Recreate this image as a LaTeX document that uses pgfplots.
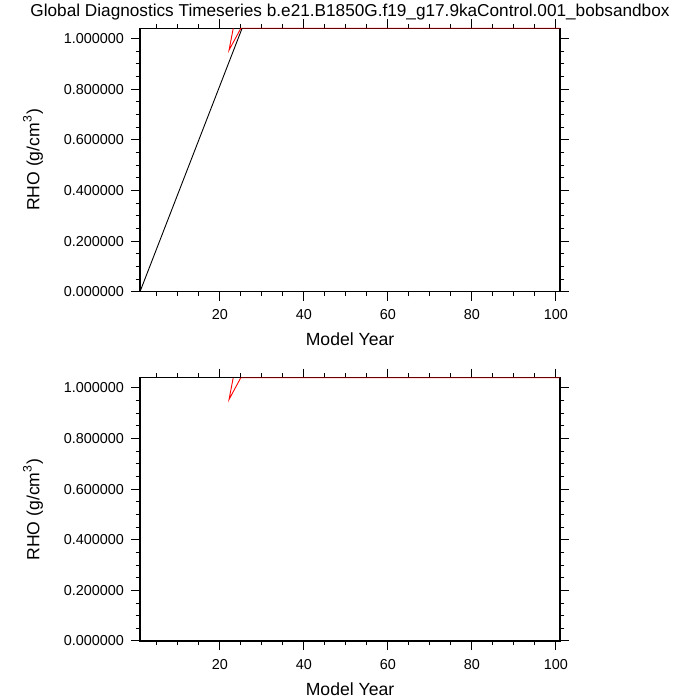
\documentclass[border=0pt]{standalone}
\usepackage{pgfplots}
\pgfplotsset{compat=1.18}
\usepackage{fontspec}
\setmainfont{Liberation Sans}
\pgfplotsset{
  ncl/.style={
    scale only axis, width=210pt, height=131.65pt,
    anchor=south west,
    xmin=1, xmax=101, ymin=0, ymax=1.04,
    xtick={20,40,60,80,100},
    xticklabels={20,40,60,80,100},
    minor xtick={5,10,15,25,30,35,45,50,55,65,70,75,85,90,95},
    ytick={0,0.2,0.4,0.6,0.8,1.0},
    yticklabels={0.000000,0.200000,0.400000,0.600000,0.800000,1.000000},
    minor ytick={0.05,0.1,0.15,0.25,0.3,0.35,0.45,0.5,0.55,0.65,0.7,0.75,0.85,0.9,0.95},
    tick align=outside,
    xtick pos=both, ytick pos=both,
    major tick length=4.5pt, minor tick length=2.2pt,
    every tick/.style={black, line width=0.5pt},
    axis line style={line width=0.7pt},
    ticklabel style={font=\fontsize{7.2}{8}\selectfont},
    xticklabel style={yshift=-1pt},
    xlabel={Model Year},
    label style={font=\fontsize{8.8}{10}\selectfont},
    xlabel style={at={(axis description cs:0.5,0)}, anchor=center, yshift=-24pt},
    clip=false,
  }
}
\begin{document}
\begin{tikzpicture}[x=1pt,y=1pt]
\begin{axis}[ncl, at={(70pt,204.15pt)}]
\addplot[red, line width=0.45pt] coordinates {(23.2,1.04) (22.2,0.954) (25.0,1.04) (101,1.04)};
\addplot[black, line width=0.45pt] coordinates {(1,0) (25.3,1.04)};
\addplot[black, opacity=0.6, line width=0.7pt] coordinates {(25.3,1.04) (101,1.04)};
\end{axis}
\begin{axis}[ncl, at={(70pt,29.5pt)}]
\addplot[red, line width=0.45pt] coordinates {(23.2,1.04) (22.2,0.954) (25.0,1.04) (101,1.04)};
\addplot[black, opacity=0.6, line width=0.7pt] coordinates {(1,1.04) (101,1.04)};
\end{axis}
\node[font=\fontsize{8.8}{10}\selectfont, rotate=90] at (16.5pt,270pt) {RHO (g/cm\textsuperscript{3})};
\node[font=\fontsize{8.8}{10}\selectfont, rotate=90] at (16.5pt,95.2pt) {RHO (g/cm\textsuperscript{3})};
\node[font=\fontsize{8.6}{10}\selectfont] at (175pt,344pt) {Global Diagnostics Timeseries b.e21.B1850G.f19\_g17.9kaControl.001\_bobsandbox};
\pgfresetboundingbox
\useasboundingbox (0,0) rectangle (350pt,350pt);
\end{tikzpicture}
\end{document}
